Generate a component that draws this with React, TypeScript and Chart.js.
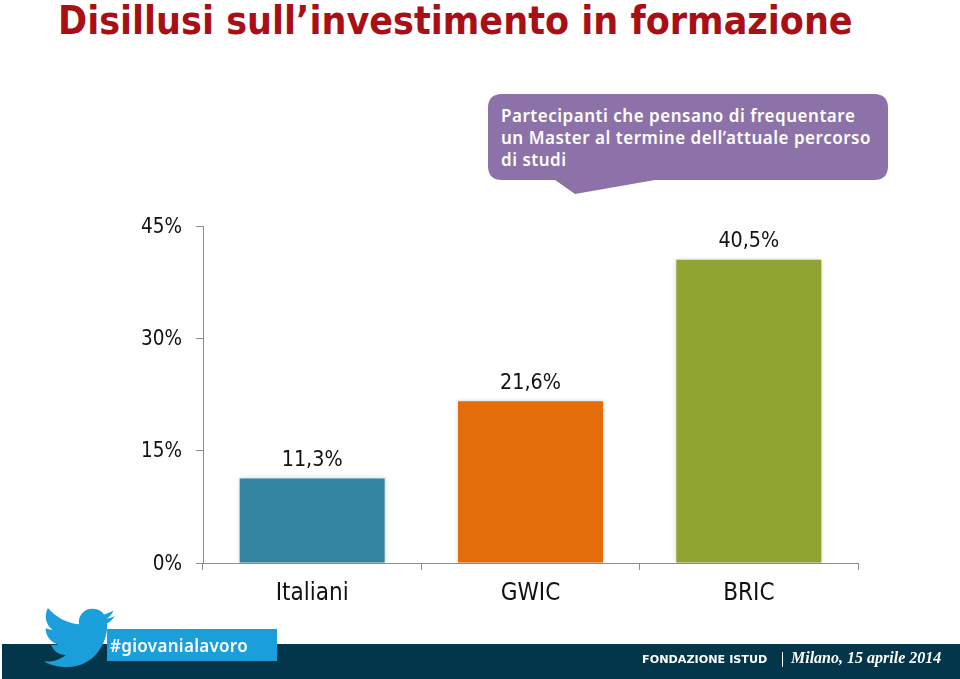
import React, { useEffect, useRef } from "react";
import { Chart, registerables } from "chart.js";

Chart.register(...registerables);

const categories = ["Italiani", "GWIC", "BRIC"];
const values = [11.3, 21.6, 40.5];
const valueLabels = ["11,3%", "21,6%", "40,5%"];
const barColors = ["#33849F", "#E46C0A", "#90A431"];
const yTicks = [0, 15, 30, 45];
const titleText = "Disillusi sull’investimento in formazione";
const calloutLines = [
  "Partecipanti che pensano di frequentare",
  "un Master al termine dell’attuale percorso",
  "di studi",
];

const FONT = "'DejaVu Sans Condensed', 'DejaVu Sans', sans-serif";
const BIRD =
  "M115 617 C111 619 108 620 104 620 C108 618 111 615 113 610 C109 612 105 614 101 615 C97 610 92 608 86 608 C75 608 67 617 69 627 C53 626 39 618 29 607 C24 616 26 628 35 634 C32 634 29 633 26 632 C26 641 33 650 42 652 C39 653 36 653 33 652 C36 660 43 665 52 665 C44 671 34 674 24 673 C33 678 44 680 54 680 C87 680 106 652 105 626 C109 624 112 621 115 617 Z";

const barPlugin = {
  id: "barDecor",
  beforeDatasetsDraw(chart: any) {
    const c = chart.ctx;
    c.save();
    c.shadowColor = "rgba(150,150,150,0.45)";
    c.shadowBlur = 4;
  },
  afterDatasetsDraw(chart: any) {
    const c = chart.ctx;
    c.restore();
    const meta = chart.getDatasetMeta(0);
    c.save();
    c.fillStyle = "#111";
    c.font = `21.3px ${FONT}`;
    c.textAlign = "center";
    c.textBaseline = "middle";
    meta.data.forEach((el: any, i: number) => {
      c.fillText(valueLabels[i], el.x, el.y - 18);
    });
    c.restore();
  },
};

export default function App() {
  const ref = useRef<HTMLCanvasElement | null>(null);
  useEffect(() => {
    if (!ref.current) return;
    const chart = new Chart(ref.current, {
      type: "bar",
      data: {
        labels: categories,
        datasets: [
          {
            data: values,
            backgroundColor: barColors,
            barPercentage: 0.664,
            categoryPercentage: 1,
          },
        ],
      },
      options: {
        responsive: false,
        animation: false,
        layout: { padding: { left: 0, top: 226, right: 102, bottom: 0 } },
        plugins: { legend: { display: false }, tooltip: { enabled: false }, title: { display: false } },
        scales: {
          x: {
            afterFit: (s: any) => {
              s.height = 116;
            },
            grid: { drawOnChartArea: false, tickLength: 7, color: "#8c8c8c", offset: true },
            border: { color: "#8c8c8c" },
            ticks: { color: "#111", font: { size: 24, family: FONT }, padding: 9, maxRotation: 0 },
          },
          y: {
            min: 0,
            max: 45,
            afterFit: (s: any) => {
              s.width = 203;
            },
            afterBuildTicks: (s: any) => {
              s.ticks = yTicks.map((v) => ({ value: v }));
            },
            grid: { drawOnChartArea: false, tickLength: 7, color: "#8c8c8c" },
            border: { color: "#8c8c8c" },
            ticks: {
              color: "#111",
              font: { size: 20.5, family: FONT },
              padding: 14,
              labelOffset: 1.5,
              callback: (v: any) => `${v}%`,
            },
          },
        },
      },
      plugins: [barPlugin],
    } as any);
    return () => chart.destroy();
  }, []);

  return (
    <div style={{ position: "fixed", left: 0, top: 0, width: 960, height: 679, background: "#fff", overflow: "hidden", fontFamily: FONT }}>
      <div style={{ position: "absolute", left: 58, top: -2, fontSize: 39, lineHeight: "46px", fontWeight: 700, color: "#A81016", whiteSpace: "nowrap" }}>
        {titleText}
      </div>
      <svg width={960} height={679} style={{ position: "absolute", left: 0, top: 0 }}>
        <path
          d="M502 94 H874 Q888 94 888 108 V166 Q888 180 874 180 H655 L575 194 L555 180 H502 Q488 180 488 166 V108 Q488 94 502 94 Z"
          fill="#8C72A8"
        />
        <rect x={2} y={644} width={958} height={35} fill="#03364A" />
        <rect x={107} y={629} width={170} height={32} fill="#1B9FDA" />
        <path d={BIRD} fill="#1B9FDA" transform="translate(25.3,116.3) scale(0.78,0.81)" />
        <line x1={782.5} y1={652} x2={782.5} y2={667} stroke="#fff" strokeWidth={1} />
      </svg>
      <div style={{ position: "absolute", left: 501, top: 105, fontSize: 17, lineHeight: "22px", fontWeight: 600, color: "#fff", whiteSpace: "nowrap", letterSpacing: 0.52, fontFamily: "'Noto Sans', sans-serif" }}>
        {calloutLines.map((l) => (
          <div key={l}>{l}</div>
        ))}
      </div>
      <canvas ref={ref} width={960} height={679} style={{ position: "absolute", left: 0, top: 0, display: "block" }} />
      <div style={{ position: "absolute", left: 110, top: 634, fontSize: 17, lineHeight: "24px", fontWeight: 600, color: "#fff", whiteSpace: "nowrap", letterSpacing: 0.3, fontFamily: "'Noto Sans', sans-serif" }}>
        #giovanialavoro
      </div>
      <div style={{ position: "absolute", left: 642, top: 652, fontSize: 11.2, lineHeight: "16px", fontWeight: 700, color: "#fff", whiteSpace: "nowrap", fontFamily: "'DejaVu Sans', sans-serif" }}>
        FONDAZIONE ISTUD
      </div>
      <div style={{ position: "absolute", left: 791, top: 648, fontSize: 16, lineHeight: "20px", fontStyle: "italic", fontWeight: 700, color: "#fff", whiteSpace: "nowrap", fontFamily: "'Liberation Serif', serif" }}>
        Milano, 15 aprile 2014
      </div>
    </div>
  );
}
